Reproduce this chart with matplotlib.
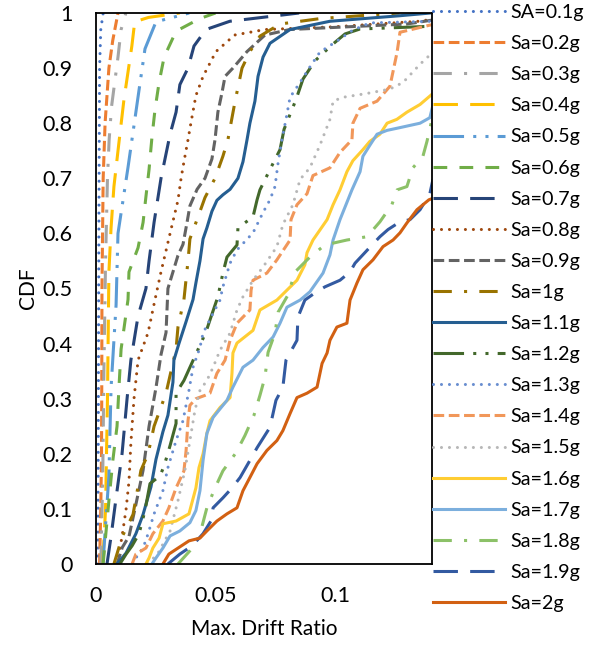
import matplotlib
matplotlib.use("Agg")
import matplotlib.pyplot as plt

plt.rcParams['font.family'] = ['Lato', 'DejaVu Sans']

# ---------------- data ----------------
labels = ["SA=0.1g", "Sa=0.2g", "Sa=0.3g", "Sa=0.4g", "Sa=0.5g", "Sa=0.6g", "Sa=0.7g",
          "Sa=0.8g", "Sa=0.9g", "Sa=1g", "Sa=1.1g", "Sa=1.2g", "Sa=1.3g", "Sa=1.4g",
          "Sa=1.5g", "Sa=1.6g", "Sa=1.7g", "Sa=1.8g", "Sa=1.9g", "Sa=2g"]

cdf_sa01 = [0, 0.3, 0.6, 0.9, 0.97, 1.0]
drift_sa01 = [0.0008, 0.001, 0.0012, 0.0015, 0.002, 0.003]

cdf_sa02 = [0, 0.1, 0.2, 0.3, 0.5, 0.7, 0.8, 0.9, 0.95, 1.0]
drift_sa02 = [0.0015, 0.002, 0.0023, 0.0024, 0.0025, 0.003, 0.0038, 0.0054, 0.007, 0.0092]

cdf_sa03 = [0, 0.15, 0.35, 0.55, 0.7, 0.77, 0.83, 0.88, 0.92, 0.97, 1.0]
drift_sa03 = [0.002, 0.0028, 0.0033, 0.004, 0.0048, 0.0055, 0.0065, 0.008, 0.0092, 0.0105, 0.0125]

cdf_sa04 = [0, 0.1, 0.3, 0.53, 0.61, 0.685, 0.765, 0.843, 0.94, 0.984, 0.992, 1.0]
drift_sa04 = [0.0028, 0.004, 0.0048, 0.0054, 0.0063, 0.0075, 0.0096, 0.0117, 0.015, 0.0162, 0.022, 0.035]

cdf_sa05 = [0, 0.16, 0.32, 0.47, 0.6, 0.72, 0.86, 0.935, 0.984, 1.0]
drift_sa05 = [0.0029, 0.0054, 0.0063, 0.0084, 0.0092, 0.0134, 0.018, 0.0205, 0.0251, 0.039]

cdf_sa06 = [0, 0.04, 0.115, 0.19, 0.25, 0.32, 0.39, 0.48, 0.53, 0.574, 0.62, 0.667, 0.716,
            0.774, 0.825, 0.874, 0.92, 0.967, 0.99, 1.0]
drift_sa06 = [0.003, 0.0038, 0.0054, 0.0071, 0.0088, 0.0096, 0.0105, 0.0134, 0.0138, 0.0176,
              0.0197, 0.0209, 0.0222, 0.0234, 0.0247, 0.0264, 0.0285, 0.0335, 0.0435, 0.05]

cdf_sa07 = [0, 0.05, 0.12, 0.2, 0.3, 0.37, 0.45, 0.5, 0.55, 0.62, 0.7, 0.78, 0.82, 0.87, 0.9,
            0.94, 0.97, 0.985, 1.0]
drift_sa07 = [0.0046, 0.0063, 0.0084, 0.0109, 0.013, 0.0146, 0.0176, 0.0209, 0.0222, 0.0243,
              0.0272, 0.031, 0.0335, 0.0351, 0.0385, 0.041, 0.046, 0.056, 0.085]

cdf_sa08 = [0, 0.05, 0.1, 0.15, 0.22, 0.3, 0.37, 0.42, 0.48, 0.53, 0.6, 0.66, 0.7, 0.73, 0.77,
            0.8, 0.85, 0.885, 0.93, 0.96, 0.97, 0.975, 0.985, 1.0]
drift_sa08 = [0.0088, 0.0109, 0.0126, 0.0138, 0.0146, 0.0159, 0.0176, 0.0218, 0.0247, 0.0272,
              0.031, 0.0343, 0.0356, 0.0368, 0.0385, 0.0397, 0.0418, 0.0448, 0.0502, 0.058,
              0.0707, 0.1, 0.135, 0.16]

cdf_sa09 = [0, 0.03, 0.05, 0.1, 0.17, 0.25, 0.32, 0.38, 0.42, 0.5, 0.56, 0.58, 0.62, 0.65, 0.68,
            0.7, 0.735, 0.77, 0.82, 0.855, 0.885, 0.9, 0.93, 0.96, 0.97, 0.98, 1.0]
drift_sa09 = [0.0088, 0.011, 0.0138, 0.0163, 0.0197, 0.0222, 0.0251, 0.0272, 0.0293, 0.0301,
              0.0343, 0.0364, 0.0381, 0.0393, 0.0423, 0.0456, 0.0485, 0.0498, 0.051, 0.0527,
              0.054, 0.0573, 0.0632, 0.0707, 0.081, 0.13, 0.16]

cdf_sa10 = [0, 0.05, 0.09, 0.17, 0.2, 0.25, 0.31, 0.39, 0.43, 0.48, 0.55, 0.59, 0.63, 0.665,
            0.7, 0.74, 0.77, 0.84, 0.9, 0.93, 0.958, 0.98, 0.99, 1.0]
drift_sa10 = [0.0075, 0.011, 0.0155, 0.0188, 0.0218, 0.0243, 0.0293, 0.0335, 0.0343, 0.0368,
              0.0385, 0.0393, 0.0427, 0.0456, 0.0498, 0.0531, 0.0552, 0.0582, 0.0611, 0.0644,
              0.0686, 0.077, 0.094, 0.127]

cdf_sa11 = [0, 0.02, 0.055, 0.09, 0.14, 0.19, 0.24, 0.27, 0.33, 0.37, 0.4, 0.44, 0.48, 0.51,
            0.55, 0.59, 0.61, 0.64, 0.66, 0.67, 0.68, 0.7, 0.73, 0.77, 0.8, 0.84, 0.885, 0.92,
            0.945, 0.97, 0.985, 0.995, 1.0]
drift_sa11 = [0.0088, 0.0126, 0.0167, 0.0197, 0.023, 0.0251, 0.028, 0.0301, 0.0322, 0.0326,
              0.0347, 0.0377, 0.0406, 0.0418, 0.0435, 0.0448, 0.0464, 0.0485, 0.0506, 0.0531,
              0.0561, 0.0594, 0.0615, 0.0632, 0.0644, 0.0665, 0.0678, 0.0699, 0.0728, 0.0812,
              0.0979, 0.127, 0.14]

cdf_sa12 = [0, 0.018, 0.033, 0.055, 0.097, 0.146, 0.16, 0.178, 0.215, 0.255, 0.31, 0.333,
            0.397, 0.421, 0.443, 0.485, 0.528, 0.557, 0.579, 0.61, 0.63, 0.661, 0.679, 0.716,
            0.752, 0.789, 0.816, 0.843, 0.88, 0.913, 0.942, 0.962, 0.971, 0.973, 0.976, 1.0]
drift_sa12 = [0.01, 0.0126, 0.0151, 0.018, 0.0205, 0.0226, 0.0268, 0.0285, 0.031, 0.0335,
              0.0335, 0.0368, 0.0435, 0.046, 0.0477, 0.051, 0.0531, 0.0548, 0.059, 0.0594,
              0.0657, 0.0674, 0.0686, 0.0728, 0.077, 0.0787, 0.0812, 0.0837, 0.0866, 0.0916,
              0.0987, 0.1042, 0.1105, 0.123, 0.1406, 0.17]

cdf_sa13 = [0, 0.011, 0.029, 0.055, 0.091, 0.133, 0.175, 0.224, 0.26, 0.315, 0.357, 0.393,
            0.419, 0.455, 0.479, 0.503, 0.546, 0.57, 0.601, 0.638, 0.661, 0.685, 0.725, 0.77,
            0.807, 0.847, 0.874, 0.902, 0.929, 0.949, 0.969, 0.982, 0.985, 1.0]
drift_sa13 = [0.0155, 0.0167, 0.0197, 0.0218, 0.0243, 0.028, 0.0301, 0.0335, 0.0364, 0.0389,
              0.0406, 0.0435, 0.0448, 0.049, 0.0519, 0.0531, 0.0561, 0.059, 0.0657, 0.0699,
              0.0728, 0.0749, 0.0761, 0.0778, 0.0795, 0.0812, 0.0854, 0.0895, 0.0937, 0.1008,
              0.1075, 0.1146, 0.1406, 0.17]

cdf_sa14 = [0, 0.018, 0.029, 0.055, 0.078, 0.102, 0.138, 0.169, 0.206, 0.26, 0.288, 0.3, 0.306,
            0.31, 0.346, 0.37, 0.406, 0.437, 0.461, 0.497, 0.515, 0.528, 0.552, 0.588, 0.625,
            0.652, 0.672, 0.705, 0.719, 0.747, 0.77, 0.8, 0.827, 0.84, 0.867, 0.929, 0.965,
            0.978, 0.99]
drift_sa14 = [0.0151, 0.0167, 0.0209, 0.0238, 0.028, 0.0305, 0.0335, 0.0368, 0.0377, 0.0385,
              0.0393, 0.0418, 0.0456, 0.0477, 0.0506, 0.054, 0.0561, 0.059, 0.0644, 0.0649,
              0.0657, 0.0715, 0.0757, 0.0812, 0.0816, 0.0841, 0.0883, 0.0908, 0.0979, 0.1021,
              0.1071, 0.1075, 0.1105, 0.1176, 0.123, 0.126, 0.1272, 0.1397, 0.16]

cdf_sa15 = [0, 0.02, 0.06, 0.115, 0.17, 0.224, 0.279, 0.315, 0.333, 0.357, 0.388, 0.419, 0.461,
            0.485, 0.515, 0.539, 0.576, 0.616, 0.652, 0.698, 0.719, 0.76, 0.807, 0.84, 0.847,
            0.854, 0.862, 0.874, 0.907, 0.929, 1.0]
drift_sa15 = [0.0218, 0.026, 0.031, 0.0343, 0.0372, 0.0393, 0.0414, 0.0435, 0.0464, 0.049,
              0.0519, 0.0561, 0.059, 0.0615, 0.0657, 0.0699, 0.0757, 0.0782, 0.0824, 0.0854,
              0.0895, 0.0937, 0.0979, 0.0992, 0.1033, 0.1134, 0.123, 0.1285, 0.1356, 0.141, 0.17]

cdf_sa16 = [0, 0.011, 0.029, 0.047, 0.073, 0.078, 0.091, 0.138, 0.175, 0.2, 0.237, 0.26, 0.284,
            0.302, 0.346, 0.383, 0.401, 0.424, 0.461, 0.479, 0.497, 0.515, 0.543, 0.565, 0.588,
            0.625, 0.652, 0.679, 0.712, 0.732, 0.752, 0.767, 0.78, 0.8, 0.807, 0.82, 0.834,
            0.854]
drift_sa16 = [0.0209, 0.0222, 0.0238, 0.0264, 0.028, 0.0335, 0.0389, 0.0418, 0.0431, 0.0448,
              0.0464, 0.0477, 0.0519, 0.0561, 0.0569, 0.0573, 0.059, 0.0657, 0.0686, 0.0757,
              0.0799, 0.0841, 0.0874, 0.0883, 0.0908, 0.0967, 0.0992, 0.1021, 0.105, 0.1075,
              0.1117, 0.1146, 0.1188, 0.1218, 0.1259, 0.1301, 0.1356, 0.141]

cdf_sa17 = [0, 0.011, 0.029, 0.051, 0.06, 0.075, 0.097, 0.133, 0.188, 0.237, 0.266, 0.297,
            0.321, 0.357, 0.37, 0.393, 0.412, 0.437, 0.466, 0.479, 0.494, 0.528, 0.561, 0.588,
            0.625, 0.652, 0.679, 0.712, 0.74, 0.76, 0.78, 0.787, 0.792, 0.8, 0.81, 0.84]
drift_sa17 = [0.0234, 0.0251, 0.028, 0.031, 0.0351, 0.0393, 0.0418, 0.0435, 0.0448, 0.0464,
              0.049, 0.0548, 0.0573, 0.0615, 0.0657, 0.0699, 0.0741, 0.077, 0.0799, 0.0854,
              0.0895, 0.095, 0.0979, 0.0992, 0.1021, 0.1046, 0.1071, 0.1105, 0.1117, 0.1146,
              0.1176, 0.1218, 0.1272, 0.1356, 0.1397, 0.1414]

cdf_sa18 = [0, 0.024, 0.042, 0.069, 0.102, 0.138, 0.169, 0.202, 0.233, 0.27, 0.306, 0.339,
            0.384, 0.419, 0.457, 0.488, 0.53, 0.557, 0.579, 0.588, 0.594, 0.621, 0.652, 0.679,
            0.685, 0.719, 0.74, 0.767, 0.807]
drift_sa18 = [0.0343, 0.0393, 0.0423, 0.0444, 0.0464, 0.0498, 0.0531, 0.0586, 0.0623, 0.0661,
              0.0686, 0.0707, 0.072, 0.0749, 0.0762, 0.0803, 0.0833, 0.0895, 0.0958, 0.105,
              0.1134, 0.1188, 0.1238, 0.126, 0.1301, 0.1326, 0.1368, 0.1385, 0.1406]

cdf_sa19 = [0, 0.018, 0.033, 0.055, 0.078, 0.102, 0.12, 0.138, 0.157, 0.188, 0.211, 0.248,
            0.297, 0.321, 0.37, 0.406, 0.448, 0.479, 0.492, 0.503, 0.515, 0.53, 0.546, 0.565,
            0.579, 0.594, 0.607, 0.621, 0.625, 0.643, 0.672, 0.698]
drift_sa19 = [0.0301, 0.0351, 0.0402, 0.0448, 0.0481, 0.049, 0.0531, 0.0569, 0.0603, 0.0644,
              0.0674, 0.0728, 0.0753, 0.0782, 0.0795, 0.0841, 0.0845, 0.0874, 0.0916, 0.0958,
              0.1021, 0.1063, 0.1084, 0.1125, 0.1155, 0.1188, 0.1222, 0.1272, 0.1314, 0.1356,
              0.1397, 0.141]

cdf_sa20 = [0, 0.018, 0.042, 0.047, 0.06, 0.078, 0.091, 0.102, 0.133, 0.157, 0.182, 0.206,
            0.224, 0.242, 0.273, 0.302, 0.31, 0.321, 0.364, 0.383, 0.406, 0.43, 0.437, 0.479,
            0.51, 0.534, 0.552, 0.576, 0.588, 0.601, 0.619, 0.643, 0.661, 0.67]
drift_sa20 = [0.028, 0.0305, 0.0389, 0.0435, 0.0464, 0.0506, 0.0548, 0.059, 0.0615, 0.0644,
              0.0674, 0.0715, 0.0757, 0.0782, 0.0812, 0.0841, 0.0883, 0.0925, 0.0946, 0.0967,
              0.0979, 0.1008, 0.105, 0.1063, 0.1092, 0.1117, 0.1159, 0.1201, 0.1243, 0.1272,
              0.1301, 0.1343, 0.1393, 0.145]

x_ticks = [0, 0.05, 0.1]
x_tick_labels = ["0", "0.05", "0.1"]
y_ticks = [0, 0.1, 0.2, 0.3, 0.4, 0.5, 0.6, 0.7, 0.8, 0.9, 1.0]
y_tick_labels = ["0", "0.1", "0.2", "0.3", "0.4", "0.5", "0.6", "0.7", "0.8", "0.9", "1"]

# ---------------- styles ----------------
colors = ["#4472C4", "#ED7D31", "#A5A5A5", "#FFC000", "#5B9BD5", "#70AD47", "#264478",
          "#9E480E", "#636363", "#997300", "#255E91", "#43682B", "#698ED0", "#F1975A",
          "#B7B7B7", "#FFCD33", "#7CAFDD", "#8CC168", "#335AA1", "#D26012"]
DOT = (0, (0.01, 2.6))
SDASH = (0, (3.5, 1.5))
DASHDOT = (0, (6, 4, 1, 4))
LGDASH = (0, (8, 4))
LDDD = (0, (10, 3, 1, 3, 1, 3))
DASH = (0, (4.5, 4))
styles = [DOT, SDASH, DASHDOT, LGDASH, LDDD, DASH, LGDASH, DOT, SDASH, DASHDOT,
          '-', LDDD, DOT, SDASH, DOT, '-', '-', DASHDOT, LGDASH, '-']

drifts = [drift_sa01, drift_sa02, drift_sa03, drift_sa04, drift_sa05, drift_sa06, drift_sa07,
          drift_sa08, drift_sa09, drift_sa10, drift_sa11, drift_sa12, drift_sa13, drift_sa14,
          drift_sa15, drift_sa16, drift_sa17, drift_sa18, drift_sa19, drift_sa20]
cdfs = [cdf_sa01, cdf_sa02, cdf_sa03, cdf_sa04, cdf_sa05, cdf_sa06, cdf_sa07, cdf_sa08,
        cdf_sa09, cdf_sa10, cdf_sa11, cdf_sa12, cdf_sa13, cdf_sa14, cdf_sa15, cdf_sa16,
        cdf_sa17, cdf_sa18, cdf_sa19, cdf_sa20]

W, H = 592, 647
fig = plt.figure(figsize=(W / 100, H / 100), dpi=100)
ax = fig.add_axes([96 / W, 1 - 564 / H, (432 - 96) / W, (564 - 13) / H])

handles = []
for lab, xs, ys, col, ls in zip(labels, drifts, cdfs, colors, styles):
    cap = 'round' if ls == DOT else 'butt'
    ln, = ax.plot(xs, ys, color=col, lw=2.2, linestyle=ls, dash_capstyle=cap,
                  solid_joinstyle='round', label=lab)
    handles.append(ln)

ax.set_xlim(0, 0.1406)
ax.set_ylim(0, 1)
ax.set_xticks(x_ticks)
ax.set_xticklabels(x_tick_labels)
ax.set_yticks(y_ticks)
ax.set_yticklabels(y_tick_labels)
ax.tick_params(length=0, labelsize=15.5, colors='#000000')
ax.tick_params(axis='y', pad=17)
ax.tick_params(axis='x', pad=16)
for s in ax.spines.values():
    s.set_linewidth(1.3)
    s.set_color('#000000')

ax.set_xlabel("Max. Drift Ratio", fontsize=15, labelpad=9)
ax.set_ylabel("CDF", fontsize=15, labelpad=3)

fig.legend(handles=handles, loc='upper left', bbox_to_anchor=(433 / W, 1 - 4 / H),
           frameon=False, fontsize=14.2, handlelength=3.65, handletextpad=0.25,
           labelspacing=0.715, borderpad=0, borderaxespad=0)

fig.savefig("out.png", dpi=100)
